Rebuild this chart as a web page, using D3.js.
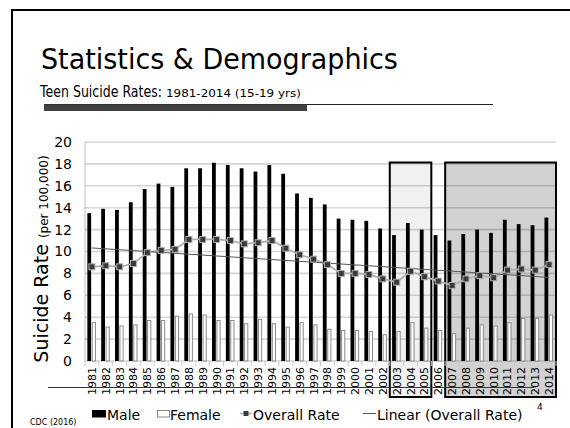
<!DOCTYPE html>
<html><head><meta charset="utf-8">
<script src="https://cdn.jsdelivr.net/npm/d3@7"></script>
<style>body{margin:0;background:#fff}svg{display:block;font-family:"DejaVu Sans",Verdana,sans-serif}</style>
</head><body>
<svg id="c" width="570" height="428"></svg>
<script>
const years = ["1981","1982","1983","1984","1985","1986","1987","1988","1989","1990","1991","1992","1993","1994","1995","1996","1997","1998","1999","2000","2001","2002","2003","2004","2005","2006","2007","2008","2009","2010","2011","2012","2013","2014"];
const male = [13.5,13.9,13.8,14.5,15.7,16.2,15.9,17.6,17.6,18.1,17.9,17.6,17.3,17.9,17.1,15.3,14.9,14.3,13.0,12.9,12.8,12.1,11.5,12.6,12.0,11.5,11.0,11.6,12.0,11.7,12.9,12.5,12.4,13.1];
const female = [3.5,3.1,3.2,3.3,3.7,3.7,4.1,4.3,4.2,3.7,3.7,3.4,3.8,3.4,3.1,3.5,3.3,2.9,2.8,2.8,2.7,2.4,2.7,3.5,3.0,2.8,2.5,3.0,3.3,3.2,3.5,3.9,3.9,4.2];
const overall = [8.6,8.7,8.6,8.9,9.9,10.1,10.2,11.1,11.1,11.1,11.0,10.7,10.8,11.0,10.3,9.7,9.3,8.8,8.0,8.0,7.9,7.5,7.2,8.2,7.7,7.3,6.9,7.5,7.8,7.6,8.3,8.4,8.3,8.8];
const yTicks = [0,2,4,6,8,10,12,14,16,18,20];
const highlight1 = ["2003","2005"];
const highlight2 = ["2007","2014"];
const legendItems = ["Male","Female","Overall Rate","Linear (Overall Rate)"];

const svg = d3.select("#c");
const L = 85, R = 556, T = 142, B = 361;
const x = d3.scaleBand().domain(years).range([L, R]).paddingInner(0).paddingOuter(0);
const y = d3.scaleLinear().domain([0, 20]).range([B, T]);
const bw = x.bandwidth();
const cx = d => x(d) + bw/2;

// slide frame
svg.append("line").attr("x1",12).attr("x2",12).attr("y1",9).attr("y2",428).attr("stroke","#000").attr("stroke-width",2);
svg.append("line").attr("x1",11).attr("x2",570).attr("y1",10).attr("y2",10).attr("stroke","#000").attr("stroke-width",2);

// title (scaled horizontally so widths match)
function fitText(str, x0, y0, size, width){
  const t = svg.append("text").attr("font-size",size).attr("fill","#000").text(str);
  const w = t.node().getComputedTextLength();
  t.attr("transform",`translate(${x0},${y0}) scale(${width/w},1)`);
  return t;
}
fitText("Statistics & Demographics", 41, 69, 28, 357);
fitText("Teen Suicide Rates:", 40, 97, 15, 122);
fitText("1981-2014 (15-19 yrs)", 166, 97, 11, 135);
svg.append("line").attr("x1",44).attr("x2",493).attr("y1",104.5).attr("y2",104.5).attr("stroke","#222").attr("stroke-width",1);
svg.append("rect").attr("x",44).attr("y",104.5).attr("width",263).attr("height",6.5).attr("fill","#404040");

// highlight boxes (behind chart)
function box(range, fill){
  const x0 = x(range[0]), x1 = x(range[1]) + bw;
  svg.append("rect").attr("x",x0).attr("y",162.5).attr("width",x1-x0).attr("height",397-162.5)
    .attr("fill",fill).attr("stroke","#000").attr("stroke-width",2);
}
box(highlight1, "#f1f1f1");
box(highlight2, "#d2d2d2");

// gridlines
svg.append("g").selectAll("line").data(yTicks).join("line")
  .attr("x1",L).attr("x2",R).attr("y1",d=>y(d)).attr("y2",d=>y(d))
  .attr("stroke","rgba(0,0,0,0.17)").attr("stroke-width",1.6);
svg.append("line").attr("x1",L).attr("x2",L).attr("y1",T).attr("y2",B).attr("stroke","rgba(0,0,0,0.17)").attr("stroke-width",1.5);

// y axis labels
const yAxis = d3.axisLeft(y).tickValues(yTicks).tickSize(0).tickPadding(13);
const gy = svg.append("g").attr("transform",`translate(${L},0)`).call(yAxis);
gy.select(".domain").remove();
gy.selectAll("text").attr("font-size",14).attr("fill","#000").attr("font-family","DejaVu Sans, Verdana, sans-serif");

// x axis
const xAxis = d3.axisBottom(x).tickSize(0).tickPadding(0);
const gx = svg.append("g").attr("transform",`translate(0,${B})`).call(xAxis);
gx.select(".domain").remove();
gx.selectAll("text").attr("font-size",11).attr("fill","#000").attr("font-family","DejaVu Sans, Verdana, sans-serif")
  .attr("transform","rotate(-90)").attr("text-anchor","end").attr("dy","0.36em").attr("x",-6).attr("y",0);
svg.append("g").selectAll("line").data(years).join("line")
  .attr("x1",d=>x(d)).attr("x2",d=>x(d)).attr("y1",B).attr("y2",B+5)
  .attr("stroke","#c8c8c8").attr("stroke-width",1);
svg.append("line").attr("x1",R).attr("x2",R).attr("y1",B).attr("y2",B+5).attr("stroke","#c8c8c8");

// bars
svg.append("g").selectAll("rect").data(years).join("rect")
  .attr("x",d=>cx(d)-4.6).attr("width",3.8)
  .attr("y",(d,i)=>y(male[i])).attr("height",(d,i)=>B-y(male[i])).attr("fill","#000");
svg.append("g").selectAll("rect").data(years).join("rect")
  .attr("x",d=>cx(d)+0.3).attr("width",3.2)
  .attr("y",(d,i)=>y(female[i])).attr("height",(d,i)=>B-y(female[i]))
  .attr("fill","#fff").attr("stroke","#8a8a8a").attr("stroke-width",1);

// overall line
svg.append("path").datum(years).attr("fill","none").attr("stroke","#b0b0b0").attr("stroke-width",1.8)
  .attr("d", d3.line().x(d=>cx(d)).y((d,i)=>y(overall[i])));

// linear trendline (least squares fit of the overall series)
const n = overall.length, idx = d3.range(n);
const mx = d3.mean(idx), my = d3.mean(overall);
const slope = d3.sum(idx,i=>(i-mx)*(overall[i]-my))/d3.sum(idx,i=>(i-mx)*(i-mx));
const icpt = my - slope*mx;
svg.append("line").attr("x1",cx(years[0])).attr("x2",cx(years[n-1]))
  .attr("y1",y(icpt)).attr("y2",y(icpt+slope*(n-1))).attr("stroke","#555").attr("stroke-width",1);

// markers
svg.append("g").selectAll("rect").data(years).join("rect")
  .attr("x",d=>cx(d)-3).attr("y",(d,i)=>y(overall[i])-3).attr("width",6).attr("height",6)
  .attr("fill","#3a3a3a").attr("stroke","#b0b0b0").attr("stroke-width",1);

// y title
const yt = svg.append("text").attr("transform","translate(48,259) rotate(-90)").attr("text-anchor","middle").attr("fill","#000");
yt.append("tspan").attr("font-size",19).text("Suicide Rate ");
yt.append("tspan").attr("font-size",12).text("(per 100,000)");

// footer line
svg.append("line").attr("x1",48).attr("x2",534).attr("y1",387.5).attr("y2",387.5).attr("stroke","#333").attr("stroke-width",1);

// legend
const lg = svg.append("g").attr("font-size",14).attr("fill","#000");
const ly = 420;
lg.append("rect").attr("x",92).attr("y",410).attr("width",14).attr("height",7.5).attr("fill","#000");
lg.append("text").attr("x",107).attr("y",ly).text(legendItems[0]);
lg.append("rect").attr("x",157.5).attr("y",410.5).attr("width",12).attr("height",6.5).attr("fill","#fff").attr("stroke","#8a8a8a");
lg.append("text").attr("x",170).attr("y",ly).text(legendItems[1]);
lg.append("line").attr("x1",240).attr("x2",252).attr("y1",413.5).attr("y2",413.5).attr("stroke","#b0b0b0").attr("stroke-width",1.5);
lg.append("rect").attr("x",243.5).attr("y",411).attr("width",5).attr("height",5).attr("fill","#3a3a3a");
lg.append("text").attr("x",253).attr("y",ly).text(legendItems[2]);
lg.append("line").attr("x1",363).attr("x2",376).attr("y1",413.5).attr("y2",413.5).attr("stroke","#555").attr("stroke-width",1);
lg.append("text").attr("x",377).attr("y",ly).text(legendItems[3]);

svg.append("text").attr("x",537).attr("y",410).attr("font-size",9).text("4");
svg.append("text").attr("x",30).attr("y",425).attr("font-size",8).text("CDC (2016)");
</script>
</body></html>
